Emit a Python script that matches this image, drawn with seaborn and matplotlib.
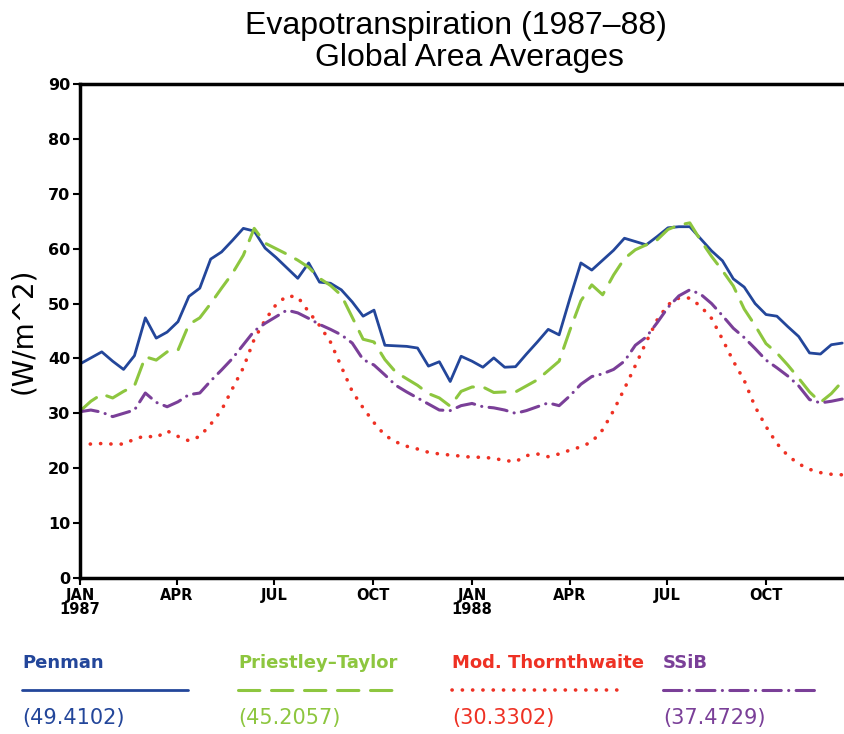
import numpy as np
import pandas as pd
import matplotlib
matplotlib.use("Agg")
import matplotlib.pyplot as plt
import seaborn as sns

# ---- data (dekadal global means, W/m^2), Jan 1987 onwards ----
penman = [39.0, 40.1, 41.2, 39.5, 38.0, 40.5, 47.4, 43.7, 44.8, 46.7,
          51.3, 52.8, 58.1, 59.4, 61.5, 63.7, 63.2, 60.1, 58.4, 56.5,
          54.6, 57.4, 53.9, 53.7, 52.5, 50.3, 47.7, 48.8, 42.4, 42.3,
          42.2, 41.9, 38.6, 39.4, 35.8, 40.4, 39.5, 38.4, 40.1, 38.4,
          38.5, 40.8, 43.0, 45.3, 44.3, 51.0, 57.4, 56.1, 57.9, 59.7,
          61.9, 61.3, 60.7, 62.2, 63.8, 64.0, 64.0, 61.8, 59.6, 57.8,
          54.5, 53.0, 50.0, 48.0, 47.7, 45.8, 44.0, 41.0, 40.8, 42.5,
          42.8]
priestley = [30.4, 32.2, 33.5, 32.8, 34.0, 35.0, 40.3, 39.7, 41.2, 41.5,
             46.2, 47.4, 50.0, 52.8, 55.5, 58.8, 63.7, 61.0, 60.0, 59.0,
             57.9, 56.6, 54.6, 53.3, 51.5, 47.5, 43.5, 43.0, 39.8, 37.5,
             36.3, 35.1, 33.6, 32.8, 31.3, 34.0, 34.8, 34.8, 33.8, 33.9,
             33.9, 35.0, 36.1, 37.8, 39.5, 45.2, 50.5, 53.4, 51.6, 55.2,
             58.2, 59.8, 60.7, 61.6, 63.5, 64.3, 64.7, 61.5, 58.6, 56.0,
             53.2, 49.0, 46.0, 42.7, 41.0, 38.8, 36.4, 33.9, 32.0, 33.6,
             35.8]
thornthwaite = [24.5, 24.4, 24.5, 24.4, 24.4, 25.3, 25.9, 25.6, 26.8, 25.8,
                25.0, 25.8, 28.0, 30.6, 34.5, 38.3, 43.5, 47.0, 49.8, 51.4,
                51.2, 48.5, 46.0, 43.0, 38.5, 34.0, 31.0, 28.3, 26.0, 24.8,
                24.0, 23.5, 22.9, 22.6, 22.4, 22.2, 22.0, 22.0, 21.8, 21.4,
                21.2, 22.3, 22.6, 22.1, 22.6, 23.3, 23.9, 24.8, 27.0, 30.5,
                34.5, 38.7, 43.0, 47.0, 49.8, 51.0, 51.0, 49.5, 47.3, 43.5,
                39.5, 36.0, 31.2, 27.6, 24.5, 22.3, 20.8, 19.8, 19.2, 18.9,
                18.8]
ssib = [30.3, 30.6, 30.2, 29.4, 30.0, 30.6, 33.7, 32.0, 31.2, 32.1,
        33.4, 33.7, 35.9, 37.9, 40.0, 42.5, 45.0, 46.4, 47.6, 48.8,
        48.3, 47.3, 46.2, 45.3, 44.3, 42.8, 39.8, 38.8, 37.0, 35.1,
        33.9, 32.8, 31.7, 30.6, 30.5, 31.4, 31.8, 31.2, 31.0, 30.6,
        30.0, 30.5, 31.2, 31.9, 31.4, 33.2, 35.3, 36.7, 37.2, 38.0,
        39.5, 42.4, 43.9, 46.5, 49.3, 51.4, 52.5, 51.7, 50.0, 47.8,
        45.5, 43.8, 41.8, 39.7, 38.3, 36.8, 35.0, 32.5, 31.9, 32.2,
        32.6]

series_names = ["Penman", "Priestley\u2013Taylor", "Mod. Thornthwaite", "SSiB"]
series_means = ["(49.4102)", "(45.2057)", "(30.3302)", "(37.4729)"]
tick_days = [0, 90, 181, 273, 365, 456, 547, 639]
tick_labels = ["JAN\n1987", "APR", "JUL", "OCT", "JAN\n1988", "APR", "JUL", "OCT"]
y_ticks = list(range(0, 91, 10))

colors = ["#23469a", "#8dc63f", "#ee3124", "#7a3f98"]
styles = ["-", (0, (7.0, 3.8)), (0, (0.05, 2.8)), (0, (6.0, 2.4, 0.05, 2.4))]
widths = [2.0, 2.2, 2.6, 2.2]

n = len(penman)
days = np.arange(n) * 730.0 / 72.0
df = pd.DataFrame({"day": days, "Penman": penman, "PT": priestley,
                   "MT": thornthwaite, "SSiB": ssib})

sns.set_theme(style="white")
plt.rcParams["font.family"] = ["Liberation Sans Narrow", "DejaVu Sans"]
plt.rcParams["text.color"] = "black"
plt.rcParams["axes.labelcolor"] = "black"
plt.rcParams["xtick.color"] = "black"
plt.rcParams["ytick.color"] = "black"

W, H = 845, 734
fig = plt.figure(figsize=(W / 100, H / 100), dpi=100)
ax = fig.add_axes([80 / W, (H - 578) / H, 784 / W, 494 / H])

for col, c, ls, lw in zip(["Penman", "PT", "MT", "SSiB"], colors, styles, widths):
    sns.lineplot(data=df, x="day", y=col, ax=ax, color=c, linewidth=lw,
                 linestyle=ls, dash_capstyle="round", solid_capstyle="round")

ax.set_xlim(0, 730)
ax.set_ylim(0, 90)
ax.set_xticks(tick_days)
ax.set_xticklabels(tick_labels, fontsize=10.5, fontweight="bold", linespacing=0.9)
ax.set_yticks(y_ticks)
ax.set_yticklabels([str(v) for v in y_ticks], fontsize=11.5, fontweight="bold")
ax.tick_params(axis="both", direction="out", length=5, width=1.5, color="black",
               left=True, bottom=True, pad=2)
for s in ["left", "bottom", "top"]:
    ax.spines[s].set_visible(True)
    ax.spines[s].set_color("black")
    ax.spines[s].set_linewidth(2.5)
ax.spines["right"].set_visible(False)
ax.set_xlabel("")
ax.set_ylabel("(W/m^2)", fontsize=20, family=["DejaVu Sans"], labelpad=8)
ax.grid(False)

fig.text(0.54, 0.985, "Evapotranspiration (1987\u201388)", ha="center", va="top",
         fontsize=23, family=["Liberation Sans", "DejaVu Sans"])
fig.text(0.555, 0.941, "Global Area Averages", ha="center", va="top",
         fontsize=23, family=["Liberation Sans", "DejaVu Sans"])

# legend panel
lax = fig.add_axes([0, 0, 1, 120 / H])
lax.set_xlim(0, W)
lax.set_ylim(H, H - 120)
lax.axis("off")
starts = [22, 238, 452, 663]
ends = [188, 400, 620, 818]
for name, mean, c, ls, lw, x0, x1 in zip(series_names, series_means, colors,
                                         styles, widths, starts, ends):
    lax.text(x0, 663, name, color=c, fontsize=13, fontweight="bold",
             ha="left", va="center")
    lax.plot([x0, x1], [690, 690], color=c, linestyle=ls, linewidth=lw,
             dash_capstyle="round")
    lax.text(x0, 718, mean, color=c, fontsize=15, ha="left", va="center")

fig.savefig("out.png", dpi=100, facecolor="white")
